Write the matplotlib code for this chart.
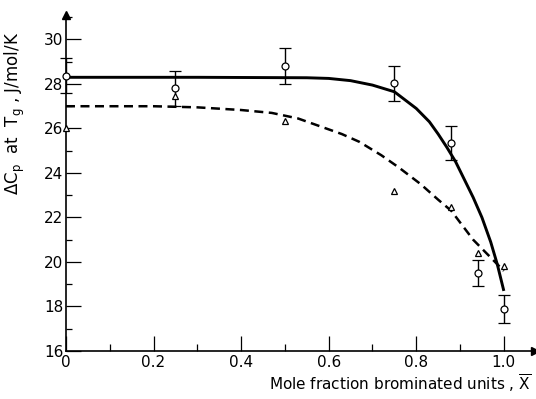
import matplotlib
matplotlib.use("Agg")
import matplotlib.pyplot as plt
from matplotlib.ticker import MultipleLocator, FixedLocator

plt.rcParams["font.family"] = ["DejaVu Sans"]

# Measured heat-capacity step at Tg (circles, with error bars)
x_circle = [0.0, 0.25, 0.5, 0.75, 0.88, 0.94, 1.0]
dcp_circle = [28.38, 27.8, 28.8, 28.03, 25.35, 19.5, 17.88]
dcp_err = [0.8, 0.8, 0.8, 0.8, 0.77, 0.6, 0.62]

# Second data set (triangles)
x_tri = [0.0, 0.25, 0.5, 0.75, 0.88, 0.94, 1.0]
dcp_tri = [26.0, 27.45, 26.35, 23.2, 22.45, 20.4, 19.8]

# Drawn trend curves
x_solid = [0.0, 0.3, 0.55, 0.60, 0.65, 0.70, 0.75, 0.80, 0.83, 0.85, 0.87,
           0.89, 0.91, 0.93, 0.95, 0.97, 0.985, 1.0]
y_solid = [28.3, 28.3, 28.28, 28.25, 28.15, 27.95, 27.65, 26.9, 26.3, 25.75,
           25.15, 24.5, 23.7, 22.9, 22.0, 20.9, 19.9, 18.7]

x_dash = [0.0, 0.2, 0.3, 0.4, 0.47, 0.53, 0.58, 0.63, 0.67, 0.72, 0.76,
          0.81, 0.85, 0.88, 0.93, 0.97, 1.0]
y_dash = [27.0, 27.0, 26.95, 26.83, 26.7, 26.45, 26.1, 25.75, 25.4, 24.8,
          24.25, 23.5, 22.8, 22.3, 21.0, 20.2, 19.6]

x_ticks = [0, 0.2, 0.4, 0.6, 0.8, 1.0]
x_ticklabels = ["0", "0.2", "0.4", "0.6", "0.8", "1.0"]
y_ticks = [16, 18, 20, 22, 24, 26, 28, 30]

fig = plt.figure(figsize=(5.36, 3.99), dpi=100)
ax = fig.add_axes([0.1231, 0.1203, 0.8749, 0.8421])

ax.plot(x_solid, y_solid, color="black", lw=2.1, solid_capstyle="butt", zorder=2)
ax.plot(x_dash, y_dash, color="black", lw=1.8, dashes=(3.6, 2.2), zorder=2)

ax.errorbar(x_circle, dcp_circle, yerr=dcp_err, fmt="o", ms=5,
            mfc="white", mec="black", mew=0.9, ecolor="black",
            elinewidth=1.0, capsize=4, capthick=1.0, zorder=4, clip_on=False)
ax.plot(x_tri, dcp_tri, "^", ms=5, mfc="white", mec="black", mew=0.9,
        zorder=4, clip_on=False)

ax.set_xlim(0, 1.071)
ax.set_ylim(16, 31.1)

ax.xaxis.set_major_locator(FixedLocator(x_ticks))
ax.set_xticklabels(x_ticklabels)
ax.xaxis.set_minor_locator(FixedLocator([0.1, 0.3, 0.5, 0.7, 0.9]))
ax.yaxis.set_major_locator(FixedLocator(y_ticks))
ax.yaxis.set_minor_locator(MultipleLocator(1))

ax.tick_params(axis="both", which="both", direction="in", colors="black", width=0.9)
ax.tick_params(axis="both", which="major", length=10.5, labelsize=11)
ax.tick_params(axis="x", which="minor", length=5)
ax.tick_params(axis="y", which="minor", length=4.5)
ax.tick_params(axis="x", which="major", pad=3)
ax.tick_params(axis="y", which="major", pad=2)

for side in ("top", "right"):
    ax.spines[side].set_visible(False)
for side in ("left", "bottom"):
    ax.spines[side].set_linewidth(1.2)

# Arrow heads at the ends of both axes
ax.plot(1, 0, ">k", ms=6, transform=ax.transAxes, clip_on=False)
ax.plot(0, 1, "^k", ms=6, transform=ax.transAxes, clip_on=False)

fig.text(15 / 536, 1 - 113 / 399, r"$\Delta$C$_\mathrm{p}$  at  T$_\mathrm{g}$ , J/mol/K",
         rotation=90, ha="center", va="center", fontsize=12)
fig.text(531 / 536, 1 - 383 / 399, r"Mole fraction brominated units , $\overline{\mathrm{X}}$",
         ha="right", va="center", fontsize=11)

fig.savefig("out.png", dpi=100)
